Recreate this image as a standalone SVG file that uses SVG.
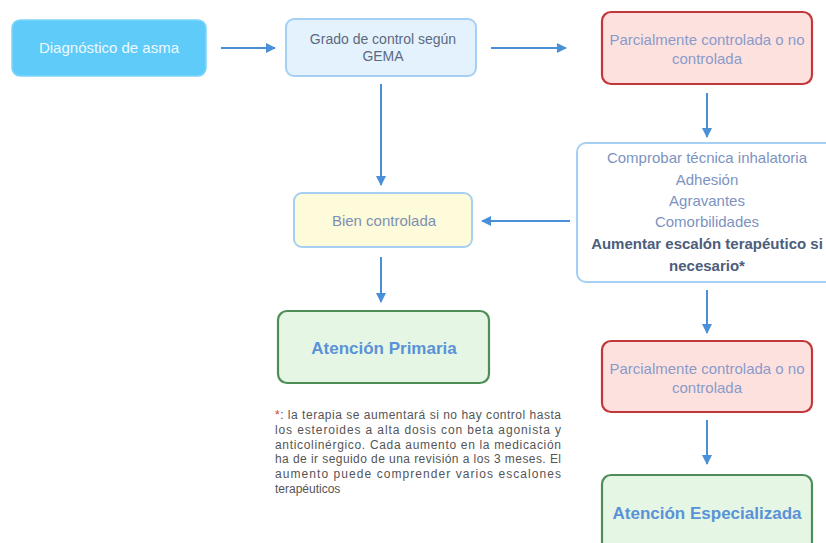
<svg xmlns="http://www.w3.org/2000/svg" width="826" height="543" viewBox="0 0 826 543">
<defs>
<marker id="ah" markerWidth="10" markerHeight="10" refX="9" refY="5" orient="auto" markerUnits="userSpaceOnUse">
<path d="M0,0 L10,5 L0,10 Z" fill="#4a90d9"/>
</marker>
</defs>
<style>
text{font-family:"Helvetica Neue","Liberation Sans",Arial,sans-serif;text-anchor:middle}
.c{stroke:#4a90d9;stroke-width:2;fill:none;marker-end:url(#ah)}
.red{fill:#fde1df;stroke:#c2383a;stroke-width:2.2}
.grn{fill:#e6f6e4;stroke:#4e8d58;stroke-width:2.2}
.lb{stroke:#a5cff3;stroke-width:2}
.t{font-size:15px;fill:#8a9bc9}
.g{font-size:17px;font-weight:bold;fill:#5a92d8}
.n{font-size:15px;fill:#7d93bf}
.b{font-size:15px;font-weight:bold;fill:#4d5d7c}
.f{font-size:12px;fill:#555;text-anchor:start}
</style>
<rect width="826" height="543" fill="#ffffff"/>
<g id="connectors">
<line class="c" x1="221" y1="48" x2="275" y2="48"/>
<line class="c" x1="491" y1="48" x2="566" y2="48"/>
<line class="c" x1="707" y1="93" x2="707" y2="137"/>
<line class="c" x1="381" y1="84" x2="381" y2="185"/>
<line class="c" x1="570" y1="221" x2="482" y2="221"/>
<line class="c" x1="381" y1="257" x2="381" y2="302"/>
<line class="c" x1="707" y1="290" x2="707" y2="333"/>
<line class="c" x1="707" y1="420" x2="707" y2="464"/>
</g>
<g id="n1">
<rect x="12" y="20" width="194" height="56" rx="8" fill="#5fcbf8" stroke="#7fd6fa" stroke-width="1.5"/>
<text x="109" y="53" style="font-size:15px;fill:#eef9ff">Diagnóstico de asma</text>
</g>
<g id="n2">
<rect x="286" y="19" width="190" height="57" rx="8" fill="#e4f2fd" class="lb"/>
<text x="383" y="44" style="font-size:14px;fill:#5b6a80">Grado de control según</text>
<text x="383" y="61" style="font-size:14px;fill:#5b6a80">GEMA</text>
</g>
<g id="n3">
<rect x="602" y="12" width="210" height="72" rx="9" class="red"/>
<text x="707" y="45" class="t">Parcialmente controlada o no</text>
<text x="707" y="64" class="t">controlada</text>
</g>
<g id="n4">
<rect x="577" y="143" width="262" height="139" rx="9" fill="#ffffff" class="lb"/>
<text x="707" y="163" class="n">Comprobar técnica inhalatoria</text>
<text x="707" y="185" class="n">Adhesión</text>
<text x="707" y="206" class="n">Agravantes</text>
<text x="707" y="227" class="n">Comorbilidades</text>
<text x="707" y="249" class="b">Aumentar escalón terapéutico si</text>
<text x="707" y="271" class="b">necesario*</text>
</g>
<g id="n5">
<rect x="294" y="193" width="178" height="54" rx="8" fill="#fdfbd9" class="lb"/>
<text x="384" y="226" style="font-size:15px;fill:#7d90b3">Bien controlada</text>
</g>
<g id="n6">
<rect x="278" y="311" width="211" height="72" rx="9" class="grn"/>
<text x="384" y="354" class="g">Atención Primaria</text>
</g>
<g id="n7">
<rect x="602" y="341" width="210" height="71" rx="9" class="red"/>
<text x="707" y="374" class="t">Parcialmente controlada o no</text>
<text x="707" y="393" class="t">controlada</text>
</g>
<g id="n8">
<rect x="602" y="475" width="210" height="80" rx="9" class="grn"/>
<text x="707" y="519" class="g">Atención Especializada</text>
</g>
<g id="note">
<text class="f" x="275" y="419" textLength="286" lengthAdjust="spacing"><tspan fill="#d04040">*</tspan>: la terapia se aumentará si no hay control hasta</text>
<text class="f" x="275" y="434" textLength="286" lengthAdjust="spacing">los esteroides a alta dosis con beta agonista y</text>
<text class="f" x="275" y="449" textLength="286" lengthAdjust="spacing">anticolinérgico. Cada aumento en la medicación</text>
<text class="f" x="275" y="463" textLength="286" lengthAdjust="spacing">ha de ir seguido de una revisión a los 3 meses. El</text>
<text class="f" x="275" y="478" textLength="286" lengthAdjust="spacing">aumento puede comprender varios escalones</text>
<text class="f" x="275" y="493">terapéuticos</text>
</g>
</svg>
